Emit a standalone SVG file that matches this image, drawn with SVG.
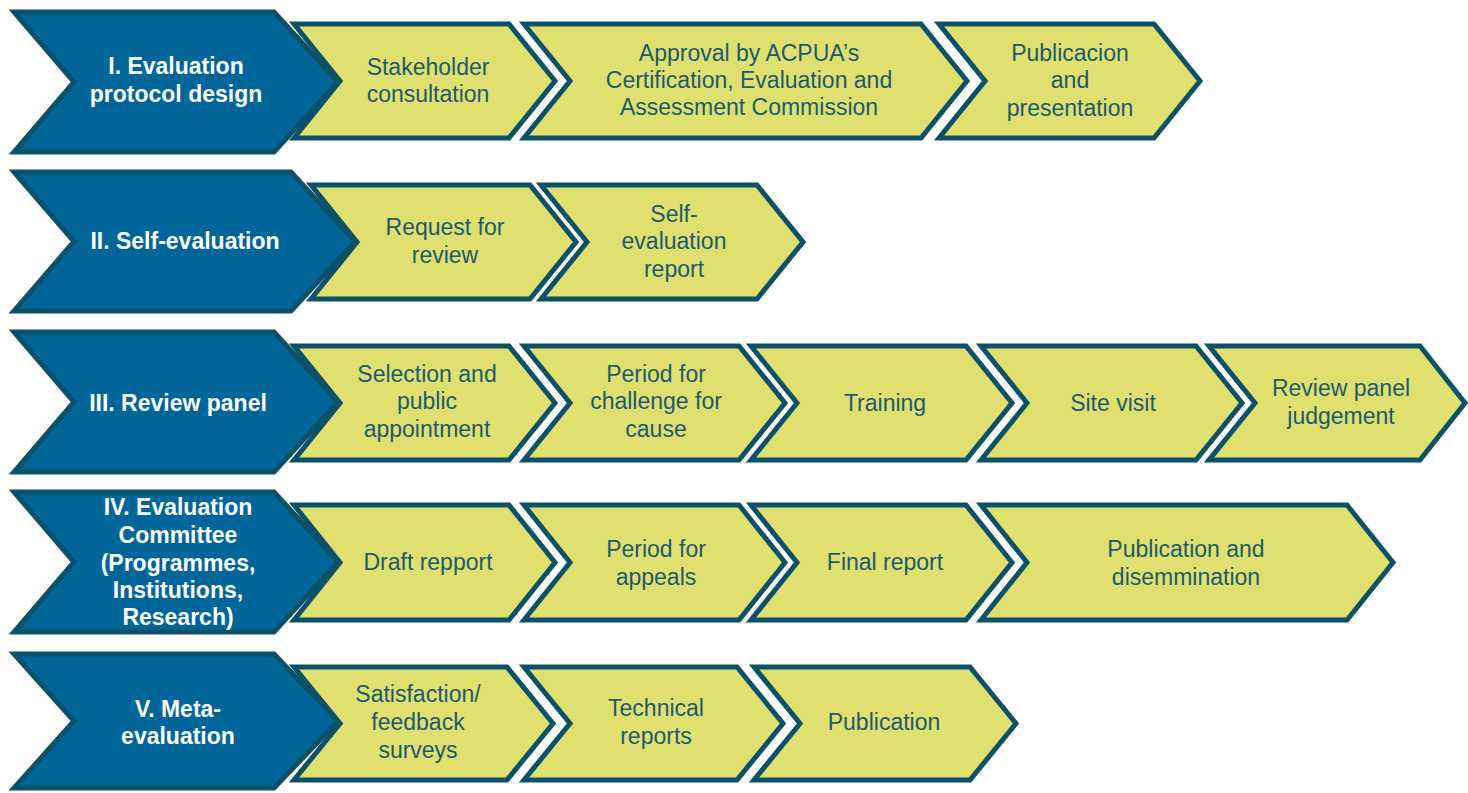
<svg xmlns="http://www.w3.org/2000/svg" width="1468" height="793" viewBox="0 0 1468 793">
<style>
.ph{fill:#006699;stroke:#0c5167;stroke-width:5;stroke-linejoin:miter}
.st{fill:#e0e070;stroke:#0c5167;stroke-width:5;stroke-linejoin:miter}
.pt{font-family:"Liberation Sans",Arial,sans-serif;font-size:23px;font-weight:bold;fill:#ffffff;text-anchor:middle}
.tt{font-family:"Liberation Sans",Arial,sans-serif;font-size:23px;fill:#1c5b6c;text-anchor:middle}
</style>
<rect width="1468" height="793" fill="#ffffff"/>
<g id="connectors"/>
<!-- Row 1 -->
<g id="phase1"><polygon class="ph" points="14,12 274,12 338,82 274,152 14,152 74,82"/>
<text class="pt" x="176" y="74">I. Evaluation</text><text class="pt" x="176" y="102">protocol design</text></g>
<g id="r1s1"><polygon class="st" points="294,24 509,24 555,81 509,138 294,138 340,81"/>
<text class="tt" x="428" y="75">Stakeholder</text><text class="tt" x="428" y="102">consultation</text></g>
<g id="r1s2"><polygon class="st" points="524,24 921,24 967,81 921,138 524,138 570,81"/>
<text class="tt" x="749" y="61">Approval by ACPUA’s</text><text class="tt" x="749" y="88">Certification, Evaluation and</text><text class="tt" x="749" y="115">Assessment Commission</text></g>
<g id="r1s3"><polygon class="st" points="939,24 1154,24 1200,81 1154,138 939,138 985,81"/>
<text class="tt" x="1070" y="61">Publicacion</text><text class="tt" x="1070" y="88">and</text><text class="tt" x="1070" y="116">presentation</text></g>
<!-- Row 2 -->
<g id="phase2"><polygon class="ph" points="14,172 291,172 355,241.5 291,311 14,311 74,241.5"/>
<text class="pt" x="185" y="249">II. Self-evaluation</text></g>
<g id="r2s1"><polygon class="st" points="311,185 530,185 576,242 530,299 311,299 357,242"/>
<text class="tt" x="445" y="235">Request for</text><text class="tt" x="445" y="263">review</text></g>
<g id="r2s2"><polygon class="st" points="541,185 757,185 803,242 757,299 541,299 587,242"/>
<text class="tt" x="674" y="222">Self-</text><text class="tt" x="674" y="249">evaluation</text><text class="tt" x="674" y="277">report</text></g>
<!-- Row 3 -->
<g id="phase3"><polygon class="ph" points="14,332 274,332 338,402 274,472 14,472 74,402"/>
<text class="pt" x="178" y="411">III. Review panel</text></g>
<g id="r3s1"><polygon class="st" points="294,346 509,346 555,403 509,460 294,460 340,403"/>
<text class="tt" x="427" y="382">Selection and</text><text class="tt" x="427" y="409">public</text><text class="tt" x="427" y="437">appointment</text></g>
<g id="r3s2"><polygon class="st" points="524,346 739,346 785,403 739,460 524,460 570,403"/>
<text class="tt" x="656" y="382">Period for</text><text class="tt" x="656" y="409">challenge for</text><text class="tt" x="656" y="437">cause</text></g>
<g id="r3s3"><polygon class="st" points="751,346 966,346 1012,403 966,460 751,460 797,403"/>
<text class="tt" x="885" y="411">Training</text></g>
<g id="r3s4"><polygon class="st" points="981,346 1196,346 1242,403 1196,460 981,460 1027,403"/>
<text class="tt" x="1113" y="411">Site visit</text></g>
<g id="r3s5"><polygon class="st" points="1209,346 1420,346 1465,403 1420,460 1209,460 1255,403"/>
<text class="tt" x="1341" y="396">Review panel</text><text class="tt" x="1341" y="424">judgement</text></g>
<!-- Row 4 -->
<g id="phase4"><polygon class="ph" points="14,492 274,492 338,562 274,632 14,632 74,562"/>
<text class="pt" x="178" y="515">IV. Evaluation</text><text class="pt" x="178" y="543">Committee</text><text class="pt" x="178" y="571">(Programmes,</text><text class="pt" x="178" y="598">Institutions,</text><text class="pt" x="178" y="625">Research)</text></g>
<g id="r4s1"><polygon class="st" points="294,505 509,505 555,562.5 509,620 294,620 340,562.5"/>
<text class="tt" x="428" y="570">Draft repport</text></g>
<g id="r4s2"><polygon class="st" points="524,505 739,505 785,562.5 739,620 524,620 570,562.5"/>
<text class="tt" x="656" y="557">Period for</text><text class="tt" x="656" y="585">appeals</text></g>
<g id="r4s3"><polygon class="st" points="751,505 966,505 1012,562.5 966,620 751,620 797,562.5"/>
<text class="tt" x="885" y="570">Final report</text></g>
<g id="r4s4"><polygon class="st" points="981,505 1347,505 1393,562.5 1347,620 981,620 1027,562.5"/>
<text class="tt" x="1186" y="557">Publication and</text><text class="tt" x="1186" y="585">disemmination</text></g>
<!-- Row 5 -->
<g id="phase5"><polygon class="ph" points="14,654 274,654 338,721 274,788 14,788 74,721"/>
<text class="pt" x="178" y="717">V. Meta-</text><text class="pt" x="178" y="744">evaluation</text></g>
<g id="r5s1"><polygon class="st" points="294,667 507,667 553,723.5 507,780 294,780 340,723.5"/>
<text class="tt" x="418" y="702">Satisfaction/</text><text class="tt" x="418" y="730">feedback</text><text class="tt" x="418" y="758">surveys</text></g>
<g id="r5s2"><polygon class="st" points="524,667 737,667 783,723.5 737,780 524,780 570,723.5"/>
<text class="tt" x="656" y="716">Technical</text><text class="tt" x="656" y="744">reports</text></g>
<g id="r5s3"><polygon class="st" points="754,667 970,667 1016,723.5 970,780 754,780 800,723.5"/>
<text class="tt" x="884" y="730">Publication</text></g>
</svg>
